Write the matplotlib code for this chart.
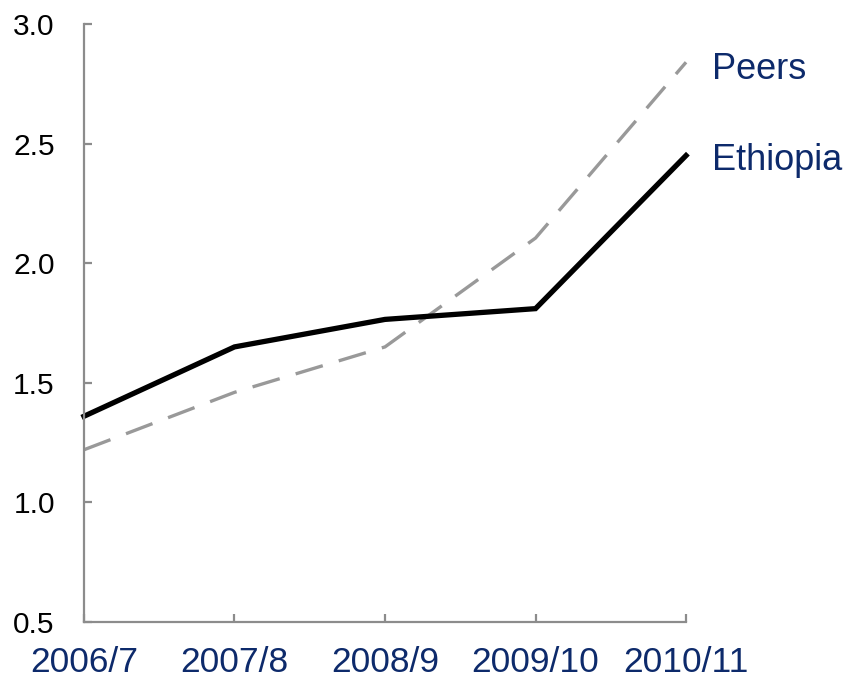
import matplotlib
matplotlib.use('Agg')
import numpy as np
from matplotlib import pyplot as plt

# Data
years = ['2006/7', '2007/8', '2008/9', '2009/10', '2010/11']
ethiopia = [1.36, 1.65, 1.765, 1.81, 2.45]
peers = [1.22, 1.46, 1.65, 2.105, 2.84]

navy = '#0d2a6b'
spine_grey = '#8c8c8c'

plt.rcParams['font.family'] = ['Liberation Sans', 'DejaVu Sans']

fig = plt.figure(figsize=(8.48, 6.83), dpi=100)
ax = fig.add_axes([0.099, 0.0893, 0.710, 0.8756])

x = np.arange(len(years))
ax.plot(x, peers, color='#999999', lw=2.4, dashes=(8.5, 5), clip_on=False)
ax.plot(x, ethiopia, color='black', lw=3.8, solid_joinstyle='miter', clip_on=False)

# Series labels at the right end
ax.text(x[-1] + 0.17, 2.81, 'Peers', color=navy, fontsize=26,
        va='center', ha='left')
ax.text(x[-1] + 0.17, 2.43, 'Ethiopia', color=navy, fontsize=26,
        va='center', ha='left')

ax.set_xlim(0, len(years) - 1)
ax.set_ylim(0.5, 3.0)
ax.set_xticks(x)
ax.set_xticklabels(years)
ax.set_yticks([0.5, 1.0, 1.5, 2.0, 2.5, 3.0])
ax.set_yticklabels([f'{v:.1f}' for v in [0.5, 1.0, 1.5, 2.0, 2.5, 3.0]])

for side in ['top', 'right']:
    ax.spines[side].set_visible(False)
for side in ['left', 'bottom']:
    ax.spines[side].set_color(spine_grey)
    ax.spines[side].set_linewidth(1.6)

ax.tick_params(axis='x', direction='in', length=6, width=1.6, color=spine_grey,
               labelsize=25.5, labelcolor=navy, pad=17)
ax.tick_params(axis='y', direction='in', length=6, width=1.6, color=spine_grey,
               labelsize=21.5, labelcolor='black', pad=21)

fig.savefig('out.png', dpi=100)
